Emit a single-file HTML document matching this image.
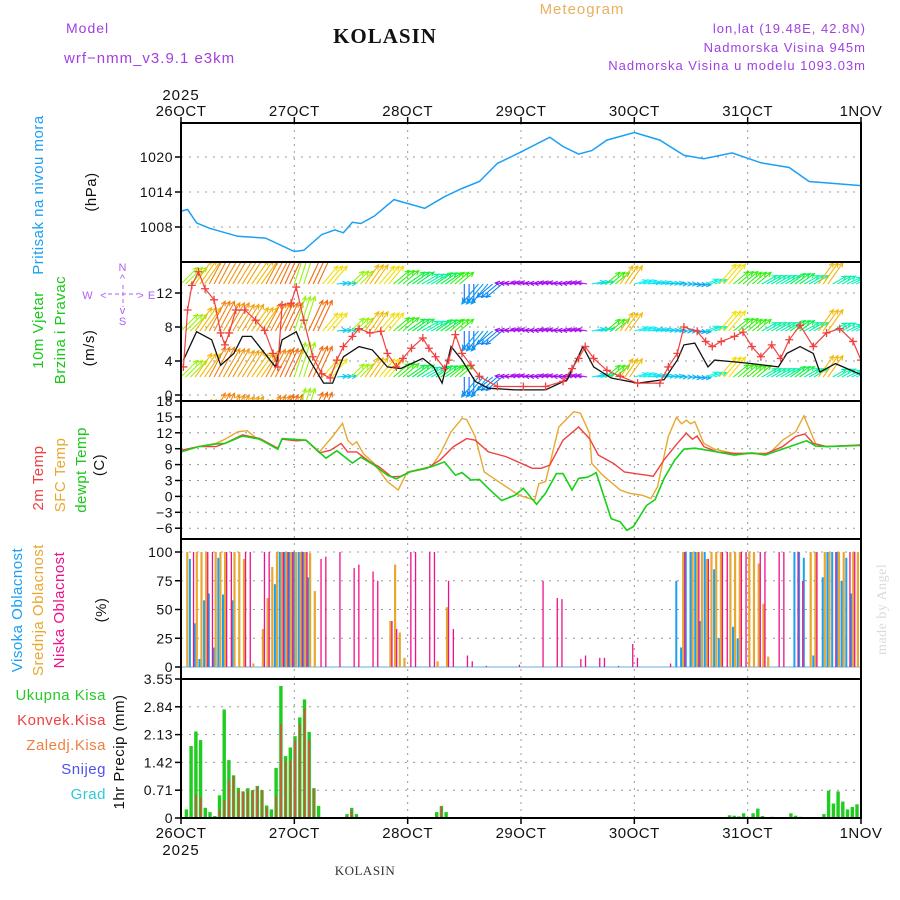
<!DOCTYPE html>
<html><head><meta charset="utf-8"><style>
html,body{margin:0;padding:0;background:#fff;}
svg{display:block;font-family:"Liberation Sans",sans-serif;}
</style></head><body>
<svg id="chart" width="900" height="900" viewBox="0 0 900 900" xmlns="http://www.w3.org/2000/svg">
<rect x="0" y="0" width="900" height="900" fill="#fff"/>
<g id="header" font-size="14" letter-spacing="1">
<text x="66" y="33" fill="#a040e0">Model</text>
<text x="64" y="63" fill="#a040e0" font-size="15">wrf−nmm_v3.9.1  e3km</text>
<text x="385" y="43" text-anchor="middle" font-family="Liberation Serif,serif" font-weight="bold" font-size="21" fill="#111">KOLASIN</text>
<text x="582" y="14" text-anchor="middle" fill="#e8b060" font-size="15">Meteogram</text>
<text x="866" y="33" text-anchor="end" fill="#a040e0" font-size="13">lon,lat (19.48E, 42.8N)</text>
<text x="866" y="52" text-anchor="end" fill="#a040e0" font-size="13">Nadmorska Visina 945m</text>
<text x="866" y="70" text-anchor="end" fill="#a040e0" font-size="13">Nadmorska Visina u modelu 1093.03m</text>
<text x="365" y="875" text-anchor="middle" font-family="Liberation Serif,serif" font-size="13" fill="#333" letter-spacing="0.5">KOLASIN</text>
<text transform="translate(886,655) rotate(-90)" font-family="Liberation Serif,serif" font-size="14" fill="#d8dcd8" letter-spacing="0.5">made by Angel</text>
</g>
<g id="labels" font-size="14" letter-spacing="1"></g>
<g id="grid"></g>
<g id="marks"></g>
<g id="frames"></g>
</svg>
<script>
// ---------- data ----------
const dayLabels=["26OCT","27OCT","28OCT","29OCT","30OCT","31OCT","1NOV"];
const pressureTicks=[1008,1014,1020];
const windTicks=[0,4,8,12];
const tempTicks=[18,15,12,9,6,3,0,-3,-6];
const cloudTicks=[0,25,50,75,100];
const precipTicks=["0","0.71","1.42","2.13","2.84","3.55"];

const pHours=[0,1.4,3.3,6,12,17.9,24,26,29.8,32.6,34.4,36.3,38.1,41,45.1,47.7,51.6,55.8,59.5,63.2,67,71.6,78.1,80.9,84.2,87,90.2,96,101.4,106.5,110.7,116.7,122.8,128.8,133,144];
const pVals=[1010.7,1011.0,1008.7,1007.8,1006.4,1006.1,1003.8,1004.0,1006.7,1007.5,1007.0,1008.8,1008.6,1009.9,1012.7,1012.1,1011.2,1013.2,1014.6,1015.8,1018.9,1020.7,1023.4,1021.8,1020.5,1021.1,1022.9,1024.2,1022.9,1020.3,1019.7,1020.7,1019.0,1018.2,1015.8,1015.1];

const wsHours=[0.5,3.3,6.5,8.4,11.2,13,14.9,20,21.4,24.4,26,27.9,30.2,32.1,34.4,37.7,40.5,43.7,46.5,51.2,53.5,55.3,57.2,59.5,62.3,65.1,70.7,77.2,81.8,85.1,87.4,91.1,96.7,102.3,105.1,106.5,108.8,111.6,113,117.2,120.9,126.5,128.3,131.1,133.9,135.3,138.6,144];
const wsVals=[4.1,7.45,6.5,3.5,4.9,6.9,6.9,3.3,6.5,7.45,5.3,3.5,1.4,1.4,4.5,5.7,5.3,3.3,3.1,4.3,3.3,1.4,5.7,4.1,1.6,0.8,0.6,0.6,1.8,5.7,3.3,2.0,1.4,1.8,4.1,5.9,6.1,3.3,4.1,3.9,3.7,3.3,4.9,5.7,4.9,2.7,3.7,2.4];
const gustHours=[0.5,1.4,2.3,3.7,5.1,7,8.4,9.3,10.2,11.6,13.5,15.8,17.7,19.5,20.5,21.4,23.3,24.4,26,27.9,29.8,31.6,33,34.4,36.3,37.7,40,42.3,43.7,45.6,47,48.8,51.2,52.5,53.9,55.8,56.7,58.1,59.5,61.4,63.2,67,72.5,77.2,80.9,82.8,84.2,85.6,87.4,90.2,93,96.7,101.4,103.2,105.1,106.5,109.3,111.1,112.5,114.4,117.2,119,120.9,122.8,125.1,127,128.8,131.1,133.9,136.7,139.5,142.3,144];
const gustVals=[3.3,10,12.9,14.5,12.5,11.2,7.3,5.9,7.3,10,10,8.8,7.6,4.9,3.3,10.6,10.8,12.7,8.8,4.5,2.5,2.0,4.1,5.7,6.9,7.8,7.3,7.5,4.9,3.3,4.3,5.5,6.7,5.5,4.5,3.1,4.1,7.1,4.9,3.5,2.2,1.0,1.0,1.0,1.6,3.1,4.3,5.7,4.3,2.9,2.2,1.4,1.4,3.3,4.9,8.0,7.5,6.3,5.7,6.3,6.9,7.4,5.7,4.5,5.9,4.3,6.5,8.2,5.7,7.3,7.8,6.3,4.1];
// wind vectors, every 3 hours: heading (deg, CCW from east) and speed-length
const windDir=[45,55,62,60,58,55,62,65,72,65,50,5,45,55,50,40,35,30,35,40,-90,-130,-140,175,170,175,170,175,170,10,40,55,15,10,5,0,-5,20,50,40,40,30,30,35,30,55,30,25,25];
const windLen=[18,22,26,25,24,22,24,24,28,26,18,8,14,18,18,16,16,15,15,14,14,20,16,9,8,8,8,8,8,10,14,17,10,9,9,8,8,10,20,15,14,13,13,14,13,20,12,12,12];

const t2Hours=[0,3.7,7.4,9.3,13,16.7,20.5,21.4,24.4,26.5,29.3,31.6,33.9,35.3,37.2,40,41.9,44.6,46.5,48.4,52.1,54.9,57.7,60.5,62.3,65.1,68.8,74.4,76.3,78.1,80.9,84.2,86.5,88.4,91.6,93.9,98.6,100,102.3,105.1,107,108.3,109.3,110.7,113.5,117.2,120.9,123.7,127.4,130.2,132.1,133.9,136.7,144];
const t2Vals=[8.7,9.4,9.4,10,11.6,10.9,9.1,10.8,10.5,10.6,8.2,8.7,10,8.4,8.4,6.5,5.6,3.7,3.8,4.6,5.3,6.9,9.4,10.9,10.6,8.4,7.5,5.3,5.3,5.9,10.6,13.1,10.9,7.8,6.2,4.6,4.0,3.8,6.9,10,11.9,10.8,11.4,9.4,8.4,8.1,8.1,8.0,9.4,11.3,11.8,10,9.4,9.7];
const sfcHours=[0,3.7,7.4,9.3,12.1,14,15.8,20.5,21.4,26.5,29.3,32.1,34.2,35.3,36.3,37.2,38.6,40.9,43.7,46,47.9,53,54.9,57.2,59.5,60.5,62.3,64.2,67.9,71.6,74.9,75.8,77.2,80,83.2,84.6,86.5,87,89.3,93,94.9,97.7,99.5,100.9,103.2,104.9,106,107,107.9,108.8,110.7,113,117.2,120.9,124.6,127.4,130.2,131.9,134.4,136.7,144];
const sfcVals=[8.4,9.4,10,10.8,12.2,12.4,11.1,9.1,10.8,10.6,8.4,11.3,13.8,10.6,9.7,10.3,8.1,6.2,2.8,1.2,4.6,5.6,8.1,12.2,14.7,14.5,11.3,4.6,2.4,0.2,-0.7,2.4,2.8,13.1,16,15.7,11.9,6.2,4.0,1.2,0.6,0.2,-0.4,1.8,11.3,14.9,13.7,14.4,13.7,14.1,10,8.9,8.1,8.2,8.1,10.6,12.2,15.2,9.9,9.4,9.7];
const dewHours=[0,3.7,7.4,9.3,13,16.7,20.5,21.4,26.5,30.7,33,36.3,38.1,40.9,43.7,45.6,48.4,53,55.8,58.1,59.5,61.4,63.2,65.1,67.9,70.7,72.5,75.3,77.2,79.5,80.9,82.8,84.2,86,87,87.9,91.1,93,94.4,95.8,98.6,100.4,102.3,104.6,106.5,108.8,111.6,117.2,120.9,123.7,130.2,132.5,134.4,136.7,144];
const dewVals=[8.4,9.4,9.9,10,11.4,10.8,8.9,10.9,10.6,7.2,8.6,6.3,7.4,5.9,4.0,3.3,4.6,5.6,6.5,4.0,4.5,3.1,3.2,1.5,-0.8,0.2,1.5,-1.5,0.6,4.3,4.3,1.2,3.4,3.6,4.0,4.5,-4.2,-4.8,-6.4,-5.7,-1.7,-0.6,3.4,6.9,8.9,9.1,8.7,7.8,8.2,7.8,9.8,10.5,9.5,9.4,9.6];

// hourly cloud cover (%), hours 0..143
const highCloud=[5,0,94,38,7,58,64,17,95,63,0,58,0,0,0,0,0,0,0,0,72,100,100,100,100,100,100,78,0,0,0,0,0,0,0,0,0,0,0,0,0,0,0,0,0,0,0,0,0,0,0,0,0,0,0,0,0,0,0,0,0,0,0,0,0,0,0,0,0,0,0,0,0,0,0,0,0,0,0,0,0,0,0,0,0,0,0,0,0,0,0,0,0,0,0,0,0,0,0,0,0,0,0,0,0,75,17,100,100,100,40,100,0,85,25,0,0,35,25,0,0,0,0,0,0,0,0,0,0,0,100,100,95,0,10,0,78,100,100,100,75,95,64,0];
const midCloud=[0,100,0,100,100,100,0,100,100,100,0,100,100,94,0,3,0,33,60,87,100,100,100,100,100,100,100,99,66,0,0,0,0,0,0,0,0,0,0,0,0,0,0,0,40,89,30,8,0,0,0,0,0,0,5,0,52,0,0,0,0,0,0,0,0,0,0,0,0,0,0,0,0,0,0,0,0,0,0,0,0,0,0,0,0,0,0,0,0,0,0,0,0,0,0,0,0,0,0,0,0,0,0,0,0,0,100,0,100,100,100,94,100,100,100,0,100,100,100,0,100,100,90,55,9,0,0,0,0,0,0,0,0,100,100,0,100,100,0,100,100,0,100,100];
const lowCloud=[0,0,100,0,0,100,100,0,0,100,100,0,0,100,100,0,0,100,100,0,0,100,100,100,0,100,100,0,0,94,96,0,0,100,0,0,86,89,0,0,83,75,0,0,40,33,0,0,100,100,0,0,100,100,0,0,75,33,0,0,10,5,0,0,1,0,0,0,0,0,0,2,0,0,0,0,75,0,0,60,59,0,0,0,7,10,0,0,8,8,0,0,1,0,0,20,8,0,0,0,0,0,0,3,0,0,100,0,0,100,0,94,0,0,100,100,0,0,100,100,0,0,100,100,0,0,100,100,0,0,100,75,0,0,100,0,0,0,100,0,0,100,100,0];
// hourly precipitation (mm)
const totalPrecip=[0,0.22,1.84,2.21,1.99,0.26,0.15,0.05,0.58,2.77,1.48,1.09,0.77,0.68,0.76,0.71,0.82,0.71,0.32,0.22,1.28,3.37,1.58,1.80,2.09,2.57,3.03,2.20,0.76,0.31,0,0,0,0,0,0.1,0.26,0.1,0,0,0,0,0,0,0,0,0,0,0,0,0,0,0,0,0.15,0.31,0.15,0,0,0,0,0,0,0,0,0,0,0,0,0,0,0,0,0,0,0,0,0,0,0,0,0,0,0,0,0,0,0,0,0,0,0,0,0,0,0,0,0,0,0,0,0,0,0,0,0,0,0,0,0,0,0,0,0,0,0,0.07,0.06,0.04,0.12,0,0.12,0.24,0.05,0,0.03,0,0,0,0.12,0.06,0.03,0,0,0,0,0.1,0.7,0.37,0.68,0.42,0.22,0.28,0.35,0.15,0];
const convPrecip=[0,0,0,0.6,0.52,0,0,0,0.2,0.45,0.95,1.07,0.7,0.68,0.7,0.71,0.8,0.71,0.25,0.02,0.55,2.4,1.45,1.47,1.98,2.4,2.8,2.0,0.76,0,0,0,0,0,0,0.05,0.2,0,0,0,0,0,0,0,0,0,0,0,0,0,0,0,0,0,0.05,0.3,0,0,0,0,0,0,0,0,0,0,0,0,0,0,0,0,0,0,0,0,0,0,0,0,0,0,0,0,0,0,0,0,0,0,0,0,0,0,0,0,0,0,0,0,0,0,0,0,0,0,0,0,0,0,0,0,0,0,0,0,0,0,0,0,0,0,0,0,0,0,0,0,0,0,0,0,0,0,0,0,0,0,0,0,0,0,0,0,0,0];

// ---------- layout ----------
const NS="http://www.w3.org/2000/svg";
const X0=181,X1=861;
const xS=h=>X0+h*(X1-X0)/144;
const yP=p=>157+(1020-p)*35/6;
const yW=v=>395-v*8.5;
const yT=t=>401+(18-t)*5.3;
const yC=c=>667-c*1.15;
const yR=r=>818-r*139/3.55;
const panels=[[123,262],[262,401],[401,539],[539,679],[679,818]];
const G=id=>document.getElementById(id);
function el(tag,attrs,parent){const e=document.createElementNS(NS,tag);for(const k in attrs)e.setAttribute(k,attrs[k]);parent.appendChild(e);return e;}
function txt(s,attrs,parent){const e=el('text',attrs,parent);e.textContent=s;return e;}

const grid=G('grid'),marks=G('marks'),frames=G('frames'),labels=G('labels');
const defs=el('defs',{},G('chart'));
panels.forEach((p,i)=>{const c=el('clipPath',{id:'clip'+i},defs);el('rect',{x:X0,y:p[0],width:X1-X0,height:p[1]-p[0]},c);});

dayLabels.forEach((d,i)=>{
  const x=xS(i*24);
  if(i>0&&i<6){const l=el('line',{x1:x,y1:123,x2:x,y2:818,stroke:'#999','stroke-dasharray':'2,5','stroke-width':1},grid);
  
  }
  const t=txt(d,{x:x,y:116,'text-anchor':'middle','font-size':15,fill:'#111','letter-spacing':'0.5'},labels);
  
  
  const b=txt(d,{x:x,y:838,'text-anchor':'middle','font-size':15,fill:'#111','letter-spacing':'0.5'},labels);
  
  
});
const y1=txt('2025',{x:181,y:100,'text-anchor':'middle','font-size':15,fill:'#111'},labels);


const y2=txt('2025',{x:181,y:855,'text-anchor':'middle','font-size':15,fill:'#111'},labels);



function hTicks(vals,labs,yf,name){
  vals.forEach((v,i)=>{
    const y=yf(v);
    const l=el('line',{x1:X0,y1:y,x2:X1,y2:y,stroke:'#999','stroke-dasharray':'2,6'},grid);
    
    
    el('line',{x1:X0-6,y1:y,x2:X0,y2:y,stroke:'#000','stroke-width':1.5},frames);
    const t=txt(labs[i],{x:X0-8,y:y+5,'text-anchor':'end','font-size':14,fill:'#111','letter-spacing':'0.5'},labels);
    
    
  });
}
hTicks(pressureTicks,pressureTicks.map(String),yP,'pressure');
hTicks(windTicks,windTicks.map(String),yW,'wind');
hTicks(tempTicks,tempTicks.map(v=>v<0?'−'+(-v):String(v)),yT,'temp');
hTicks(cloudTicks,cloudTicks.map(String),yC,'cloud');
hTicks(precipTicks.map(Number),precipTicks,yR,'precip');

function line(hs,vs,yf,color,clip,name,w){
  const d=hs.map((h,i)=>(i?'L':'M')+xS(h).toFixed(1)+','+yf(vs[i]).toFixed(1)).join('');
  const p=el('path',{d:d,fill:'none',stroke:color,'stroke-width':w||1.4,'clip-path':'url(#clip'+clip+')'},marks);
  
  
  return p;
}
line(pHours,pVals,yP,'#1aa0f5',0,'pressure-line',1.5);

function hueFor(a){
  const tb=[[-180,275],[-135,200],[-90,215],[-30,225],[0,195],[15,180],[30,160],[40,110],[50,55],[60,35],[70,15],[80,355],[135,300],[180,275]];
  for(let i=1;i<tb.length;i++){if(a<=tb[i][0]){const f=(a-tb[i-1][0])/(tb[i][0]-tb[i-1][0]);return tb[i-1][1]+f*(tb[i][1]-tb[i-1][1]);}}
  return 275;
}
const wg=el('g',{'clip-path':'url(#clip1)'},marks);


const rows=[284,331,377,423];
windDir.forEach((a,i)=>{
  for(let k=0;k<3;k++){
    const h=i*3+k; if(h>144) continue;
    const x=xS(h), L=windLen[i]*1.3, r=a*Math.PI/180;
    const col='hsl('+hueFor(a).toFixed(0)+',90%,50%)';
    rows.forEach(y0=>{
      const x2=x+L*Math.cos(r), y2=y0-L*Math.sin(r);
      const hl=5, hr1=r+Math.PI-0.45, hr2=r+Math.PI+0.45;
      const d='M'+x.toFixed(1)+','+y0+'L'+x2.toFixed(1)+','+y2.toFixed(1)+
        'M'+(x2+hl*Math.cos(hr1)).toFixed(1)+','+(y2-hl*Math.sin(hr1)).toFixed(1)+'L'+x2.toFixed(1)+','+y2.toFixed(1)+
        'L'+(x2+hl*Math.cos(hr2)).toFixed(1)+','+(y2-hl*Math.sin(hr2)).toFixed(1);
      const p=el('path',{d:d,stroke:col,'stroke-width':1.1,fill:'none'},wg);
      
      
    });
  }
});
line(wsHours,wsVals,yW,'#111',1,'wind-speed-line',1.3);
line(gustHours,gustVals,yW,'#f04040',1,'wind-gust-line',1.2);
gustHours.forEach((h,i)=>{
  const x=xS(h),y=yW(gustVals[i]);
  const p=el('path',{d:'M'+(x-4)+','+y+'h8M'+x+','+(y-4)+'v8',stroke:'#f04040','stroke-width':1.3,'clip-path':'url(#clip1)'},marks);
  
  
});

line(sfcHours,sfcVals,yT,'#e8a830',2,'sfc-temp-line',1.4);
line(t2Hours,t2Vals,yT,'#f04040',2,'2m-temp-line',1.4);
line(dewHours,dewVals,yT,'#18d018',2,'dewpoint-line',1.6);

function bars(vals,off,w,color,yf,clip,name){
  vals.forEach((v,h)=>{
    if(v<=0) return;
    const x=xS(h)+off, y=yf(v);
    const r=el('rect',{x:x.toFixed(1),y:y.toFixed(1),width:w,height:(yf(0)-y).toFixed(1),fill:color,'clip-path':'url(#clip'+clip+')'},marks);
    
    
  });
}
const base=el('line',{x1:X0,y1:yC(0),x2:X1,y2:yC(0),stroke:'#9cc8e8','stroke-width':1.5},marks);


bars(midCloud,0.5,2.2,'#e8a830',yC,3,'mid-cloud-bar');
bars(highCloud,-1.5,2,'#1aa0f5',yC,3,'high-cloud-bar');
bars(lowCloud,2.5,1.3,'#f0108a',yC,3,'low-cloud-bar');

bars(totalPrecip,-1,3.4,'#20cc20',yR,4,'total-precip-bar');
bars(convPrecip,0,1.5,'#f04040',yR,4,'convective-precip-bar');

panels.forEach((p,i)=>{
  const r=el('rect',{x:X0,y:p[0],width:X1-X0,height:p[1]-p[0],fill:'none',stroke:'#000','stroke-width':2},frames);
  
  
});
dayLabels.forEach((d,i)=>{const x=xS(i*24);
  el('line',{x1:x,y1:117,x2:x,y2:123,stroke:'#000','stroke-width':1.5},frames);
  el('line',{x1:x,y1:818,x2:x,y2:824,stroke:'#000','stroke-width':1.5},frames);});

function vt(s,x,y,c,name,fs){
  const t=txt(s,{transform:'translate('+x+','+y+') rotate(-90)','text-anchor':'middle',fill:c,'font-size':fs||15,'letter-spacing':'0.5'},labels);
  
  
}
vt('Pritisak na nivou mora',43,195,'#1aa0f5','pressure-title');
vt('(hPa)',96,192,'#111','pressure-unit');
vt('10m Vjetar',43,330,'#18c818','wind-title-1');
vt('Brzina i Pravac',65,330,'#18c818','wind-title-2');
vt('(m/s)',94,348,'#111','wind-unit');
vt('2m Temp',43,478,'#f04040','temp-2m-title');
vt('SFC Temp',65,475,'#e8a830','temp-sfc-title');
vt('dewpt Temp',86,470,'#18c818','temp-dew-title');
vt('(C)',104,465,'#111','temp-unit');
vt('Visoka Oblacnost',22,610,'#1aa0f5','high-cloud-title');
vt('Srednja Oblacnost',43,610,'#e8a830','mid-cloud-title');
vt('Niska Oblacnost',64,610,'#f0108a','low-cloud-title');
vt('(%)',106,610,'#111','cloud-unit');
vt('1hr Precip (mm)',124,752,'#111','precip-unit');
[['Ukupna  Kisa','#28c828',700],['Konvek.Kisa','#f04040',725],['Zaledj.Kisa','#f08040',750],['Snijeg','#5050f0',774],['Grad','#30c8d8',799]].forEach(a=>{
  const t=txt(a[0],{x:106,y:a[2],'text-anchor':'end',fill:a[1],'font-size':15,'letter-spacing':'0.5'},labels);
  
  
});
const cg=el('g',{fill:'#b060f0','font-size':11},labels);


[['N',123,271],['W',88,299],['E',152,299],['S',123,325],['^',123,282],['v',123,314],['<',104,299],['>',141,299]].forEach(a=>txt(a[0],{x:a[1],y:a[2],'text-anchor':'middle'},cg));
el('path',{d:'M108,294h30M123,285v22',stroke:'#b060f0','stroke-width':1,'stroke-dasharray':'4,3',fill:'none'},cg);
</script>
</body></html>
